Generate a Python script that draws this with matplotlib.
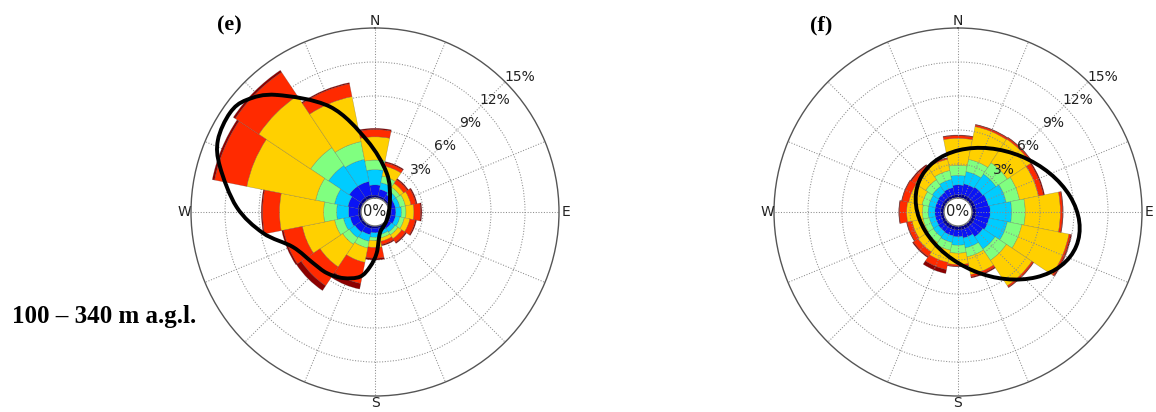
import numpy as np
import matplotlib
matplotlib.use("Agg")
import matplotlib.pyplot as plt
from matplotlib.path import Path
from matplotlib.patches import PathPatch, Ellipse

# ---------------------------------------------------------------------------
# Wind directions (compass, clockwise from north)
directions = ["N", "NNE", "NE", "ENE", "E", "ESE", "SE", "SSE",
              "S", "SSW", "SW", "WSW", "W", "WNW", "NW", "NNW"]
dir_deg = np.arange(len(directions)) * 22.5

# Speed classes, slowest to fastest
speed_colors = ["#00008c", "#0a14f5", "#00ccff", "#80ff80",
                "#ffd000", "#ff2a00", "#8c0000"]

# Panel (e): cumulative frequency (%) up to each speed class
e_cls1 = [0.25, 0.2, 0.2, 0.2, 0.2, 0.2, 0.2, 0.2, 0.2, 0.25, 0.25, 0.25, 0.25, 0.3, 0.3, 0.3]
e_cls2 = [1.15, 0.8, 0.6, 0.6, 0.6, 0.6, 0.5, 0.5, 0.6, 0.8, 0.9, 1.0, 1.1, 1.2, 1.5, 1.5]
e_cls3 = [2.5, 1.4, 1.0, 1.0, 1.1, 1.0, 0.9, 0.8, 1.0, 1.4, 1.5, 1.6, 2.15, 2.4, 3.7, 3.5]
e_cls4 = [3.35, 2.0, 1.4, 1.5, 1.5, 1.4, 1.2, 1.1, 1.3, 2.0, 2.2, 2.4, 3.3, 4.1, 5.6, 5.1]
e_cls5 = [5.4, 2.9, 1.8, 2.0, 2.2, 1.9, 1.6, 1.4, 1.9, 3.3, 4.6, 5.3, 7.2, 10.3, 11.1, 9.15]
e_cls6 = [6.05, 3.2, 2.2, 2.45, 2.8, 2.4, 2.0, 1.7, 2.85, 5.2, 6.6, 7.0, 8.7, 13.2, 13.6, 10.3]
e_cls7 = [6.15, 3.3, 2.3, 2.55, 2.9, 2.5, 2.1, 1.8, 3.0, 5.7, 7.1, 7.15, 8.8, 13.4, 13.8, 10.4]

# Panel (f): cumulative frequency (%) up to each speed class
f_cls1 = [0.3, 0.35, 0.35, 0.35, 0.35, 0.35, 0.35, 0.35, 0.35, 0.35, 0.35, 0.3, 0.3, 0.3, 0.3, 0.3]
f_cls2 = [1.15, 1.3, 1.4, 1.5, 1.6, 1.55, 1.4, 1.1, 0.95, 0.9, 0.85, 0.8, 0.8, 0.8, 0.85, 0.95]
f_cls3 = [2.0, 2.4, 2.8, 3.1, 3.5, 3.2, 2.7, 2.0, 1.7, 1.5, 1.4, 1.35, 1.4, 1.4, 1.5, 1.7]
f_cls4 = [2.9, 3.5, 4.0, 4.3, 4.7, 4.5, 3.9, 2.8, 2.4, 2.2, 2.0, 1.9, 1.9, 2.0, 2.2, 2.5]
f_cls5 = [5.27, 6.45, 6.5, 6.0, 7.8, 8.75, 6.6, 4.4, 3.4, 3.3, 3.0, 2.9, 3.3, 3.2, 3.3, 3.5]
f_cls6 = [5.5, 6.6, 6.65, 6.45, 8.0, 8.9, 6.75, 4.6, 3.55, 3.95, 3.5, 3.35, 3.95, 3.8, 3.7, 3.6]
f_cls7 = [5.56, 6.65, 6.7, 6.55, 8.05, 9.0, 6.8, 4.7, 3.6, 4.3, 3.6, 3.4, 4.0, 3.85, 3.8, 3.65]

ring_values = [3, 6, 9, 12, 15]
ring_labels = ["3%", "6%", "9%", "12%", "15%"]

# Highlight outline for panel (e), in rose units (x east, y north)
e_outline_x = [-8.68, -3.97, -0.73, 1.03, 1.32, 1.03, 0.44, 0.15, -0.44, -1.32,
               -2.82, -4.26, -5.47, -7.24, -9.89, -12.21, -13.68, -13.86, -12.80, -11.33]
e_outline_y = [10.33, 9.29, 6.35, 3.44, 1.06, -0.71, -1.85, -3.62, -4.83, -5.71,
               -5.83, -5.38, -4.50, -3.09, -1.85, 0.44, 4.00, 6.35, 8.74, 9.89]

# Highlight ellipse for panel (f): centre, semi-axes, tilt
f_ell_center = (3.50, -0.15)
f_ell_axes = (7.5, 5.47)
f_ell_angle = -22.5

HOLE = 1.235     # radius of the calm hole, in % units
RMAX = 15.0

TXT = "#222222"
SANS = "DejaVu Sans"
SERIF = "Liberation Serif"


def closed_spline_path(xs, ys):
    """Smooth closed curve through the points (Catmull-Rom as cubic Beziers)."""
    pts = np.column_stack([xs, ys])
    n = len(pts)
    verts = [pts[0]]
    codes = [Path.MOVETO]
    for i in range(n):
        p0, p1, p2, p3 = pts[i - 1], pts[i], pts[(i + 1) % n], pts[(i + 2) % n]
        c1 = p1 + (p2 - p0) / 6.0
        c2 = p2 - (p3 - p1) / 6.0
        verts += [c1, c2, p2]
        codes += [Path.CURVE4] * 3
    return Path(verts, codes)


def draw_rose(rect, cum_classes, grid_on_top):
    ax = fig.add_axes(rect, projection="polar")
    ax.set_theta_zero_location("N")
    ax.set_theta_direction(-1)
    ax.set_rorigin(-HOLE)
    ax.set_ylim(0, RMAX)

    theta = np.deg2rad(dir_deg)
    width = np.deg2rad(360 / len(directions))
    bottom = np.zeros(len(directions))
    for cum, color in zip(cum_classes, speed_colors):
        cum = np.asarray(cum, dtype=float)
        ax.bar(theta, cum - bottom, width=width, bottom=bottom, align="center",
               color=color, edgecolor=(0.25, 0.25, 0.25, 0.4), linewidth=0.35,
               zorder=1)
        bottom = cum

    ax.set_axisbelow(not grid_on_top)
    ax.set_rgrids(ring_values[:-1], labels=[])
    ticks = np.arange(0, 360, 22.5)
    compass = {0: "N", 90: "E", 180: "S", 270: "W"}
    labels = [compass.get(int(t), "") if t % 90 == 0 else "" for t in ticks]
    ax.set_xticks(np.deg2rad(ticks))
    ax.set_xticklabels(labels, fontsize=10, color=TXT, family=SANS)
    ax.tick_params(axis="x", pad=-5.5)
    ax.grid(True, color="#8c8c8c", linestyle=(0, (1, 1.6)), linewidth=0.75)

    ax.spines["polar"].set_color("#555555")
    ax.spines["polar"].set_linewidth(1.0)
    ax.spines["inner"].set_color("#777777")
    ax.spines["inner"].set_linewidth(1.0)

    for val, lab in zip(ring_values, ring_labels):
        ax.text(np.deg2rad(47), val + 1.25, lab, ha="center", va="center",
                fontsize=10, color=TXT, family=SANS, zorder=5)
    ax.text(0.5, 0.5, "0%", transform=ax.transAxes, ha="center", va="center",
            fontsize=10.5, color=TXT, family=SANS, zorder=5)

    ov = fig.add_axes(rect)
    R = RMAX + HOLE
    ov.set_xlim(-R, R)
    ov.set_ylim(-R, R)
    ov.axis("off")
    ov.patch.set_alpha(0)
    return ax, ov


fig = plt.figure(figsize=(11.56, 4.12), dpi=100)
fig.patch.set_facecolor("white")

W, H = 1156.0, 412.0
size = 368.0
rect_e = [191 / W, (H - 396) / H, size / W, size / H]
rect_f = [774 / W, (H - 396) / H, size / W, size / H]

ax_e, ov_e = draw_rose(rect_e, [e_cls1, e_cls2, e_cls3, e_cls4, e_cls5, e_cls6, e_cls7],
                       grid_on_top=False)
ax_f, ov_f = draw_rose(rect_f, [f_cls1, f_cls2, f_cls3, f_cls4, f_cls5, f_cls6, f_cls7],
                       grid_on_top=True)

ov_e.add_patch(PathPatch(closed_spline_path(e_outline_x, e_outline_y),
                         facecolor="none", edgecolor="black", linewidth=2.8,
                         joinstyle="round"))
ov_f.add_patch(Ellipse(f_ell_center, 2 * f_ell_axes[0], 2 * f_ell_axes[1],
                       angle=f_ell_angle, facecolor="none", edgecolor="black",
                       linewidth=2.8))

fig.text(229 / W, 1 - 25 / H, "(e)", ha="center", va="center", fontsize=16,
         fontweight="bold", family=SERIF, color="black")
fig.text(821 / W, 1 - 25 / H, "(f)", ha="center", va="center", fontsize=16,
         fontweight="bold", family=SERIF, color="black")
fig.text(12 / W, 1 - 316 / H, "100 \u2013 340 m a.g.l.", ha="left", va="center",
         fontsize=18, fontweight="bold", family=SERIF, color="black")

fig.savefig("out.png", dpi=100, facecolor="white")
